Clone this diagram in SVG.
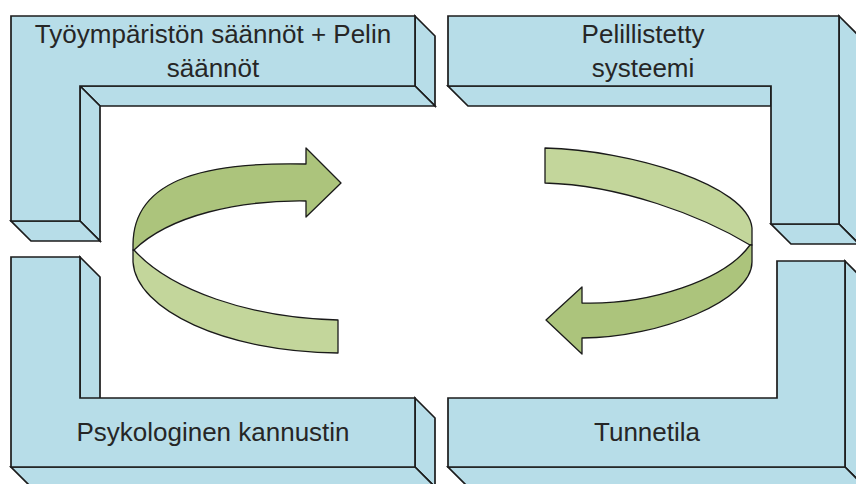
<svg xmlns="http://www.w3.org/2000/svg" width="856" height="484" viewBox="0 0 856 484">
<style>
.f{fill:#b7dde8;stroke:#1c1c1c;stroke-width:1.7;stroke-linejoin:miter}
.t{font-family:"Liberation Sans",Arial,sans-serif;font-size:26px;fill:#262626;text-anchor:middle}
.dk{fill:#acc47c;stroke:#1a1a1a;stroke-width:1.3;stroke-linejoin:round}
.lt{fill:#c3d69b;stroke:#1a1a1a;stroke-width:1.3;stroke-linejoin:round}
</style>
<rect width="856" height="484" fill="#ffffff"/>
<g id="node-tl">
<polygon class="f" points="415,16 435,36 435,106 415,86"/>
<polygon class="f" points="80,86 415,86 435,106 100,106"/>
<polygon class="f" points="80,86 100,106 100,241 80,221"/>
<polygon class="f" points="11,221 80,221 100,241 31,241"/>
<polygon class="f" points="11,16 415,16 415,86 80,86 80,221 11,221"/>
<text class="t" x="213" y="43">Työympäristön säännöt + Pelin</text>
<text class="t" x="213" y="77">säännöt</text>
</g>
<g id="node-tr">
<polygon class="f" points="448,86 771,86 771,106 468,106"/>
<polygon class="f" points="839,16 859,36 859,244 839,224"/>
<polygon class="f" points="771,224 839,224 859,244 791,244"/>
<polygon class="f" points="448,16 839,16 839,224 771,224 771,86 448,86"/>
<text class="t" x="643" y="43">Pelillistetty</text>
<text class="t" x="643" y="77">systeemi</text>
</g>
<g id="node-bl">
<polygon class="f" points="80,257 100,277 100,418 80,398"/>
<polygon class="f" points="415,398 435,418 435,487 415,467"/>
<polygon class="f" points="11,467 415,467 435,487 31,487"/>
<polygon class="f" points="11,257 80,257 80,398 415,398 415,467 11,467"/>
<text class="t" x="213" y="441">Psykologinen kannustin</text>
</g>
<g id="node-br">
<polygon class="f" points="845,261 865,281 865,487 845,467"/>
<polygon class="f" points="448,467 845,467 865,487 468,487"/>
<polygon class="f" points="777,261 845,261 845,467 448,467 448,398 777,398"/>
<text class="t" x="647" y="441">Tunnetila</text>
</g>
<g id="connectors">
<g id="arrow-left">
<path class="lt" d="M134,250 L133,250 L133,262 C136,310 225,352 338,353 L338,320 C250,318 170,290 134,250 Z"/>
<path class="dk" d="M306,164 L306,148 L341,183 L306,217 L306,201 C240,200 170,215 134,250 L133,250 L133,245 C133,175 215,162 306,164 Z"/>
</g>
<g id="arrow-right">
<path class="lt" d="M545,148 C630,150 748,185 752,228 L752,245 L750,245 C700,215 620,185 545,183 Z"/>
<path class="dk" d="M582,303 L582,287 L546,320 L582,354 L582,338 C660,338 752,300 752,262 L752,245 L750,245 C725,280 650,305 582,303 Z"/>
</g>
</g>
</svg>
